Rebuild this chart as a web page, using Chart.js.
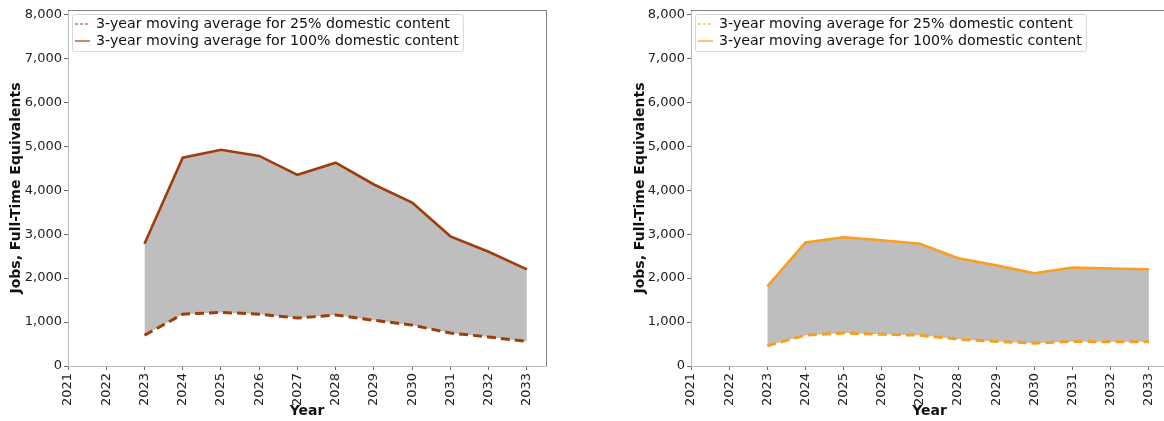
<!DOCTYPE html>
<html>
<head>
<meta charset="utf-8">
<script src="https://cdn.jsdelivr.net/npm/chart.js@4.4.0/dist/chart.umd.min.js"></script>
<style>
  html, body { margin: 0; padding: 0; background: #fff; }
  #wrap { position: relative; width: 1164px; height: 421px; overflow: hidden; }
  .panel { position: absolute; top: 0; }
</style>
</head>
<body>
<div id="wrap">
  <canvas id="left" class="panel" style="left:0" width="560" height="421"></canvas>
  <canvas id="right" class="panel" style="left:600px" width="580" height="421"></canvas>
</div>
<script>
const years = [2023, 2024, 2025, 2026, 2027, 2028, 2029, 2030, 2031, 2032, 2033];
const yTicks = [0, 1000, 2000, 3000, 4000, 5000, 6000, 7000, 8000];

// left panel (brown)
const leftLow = [700, 1180, 1220, 1180, 1090, 1160, 1040, 930, 750, 660, 560];
const leftHigh = [2780, 4740, 4920, 4780, 4350, 4625, 4130, 3720, 2950, 2600, 2200];

// right panel (orange)
const rightLow = [460, 700, 750, 720, 700, 610, 560, 520, 560, 550, 550];
const rightHigh = [1810, 2810, 2930, 2860, 2780, 2450, 2290, 2110, 2240, 2220, 2200];

const legendLabels = [
  '3-year moving average for 25% domestic content',
  '3-year moving average for 100% domestic content'
];

const FONT = 'DejaVu Sans';

const framePlugin = {
  id: 'frame',
  afterDraw(chart) {
    const { ctx, chartArea: a } = chart;
    ctx.save();
    ctx.strokeStyle = '#808080';
    ctx.lineWidth = 1;
    ctx.beginPath();
    ctx.moveTo(a.left, Math.round(a.top) + 0.5);
    ctx.lineTo(Math.round(a.right) + 0.5, Math.round(a.top) + 0.5);
    ctx.lineTo(Math.round(a.right) + 0.5, a.bottom);
    ctx.stroke();
    ctx.restore();
  }
};

const boxLegend = {
  id: 'boxLegend',
  afterDraw(chart) {
    const { ctx, chartArea: a } = chart;
    const sets = chart.data.datasets;
    ctx.save();
    ctx.font = '14.2px "' + FONT + '"';
    const textW = Math.max(...sets.map(d => ctx.measureText(d.label).width));
    const x = a.left + 4, y = a.top + 4;
    const w = 24 + textW + 4, h = 37;
    ctx.fillStyle = 'rgba(255,255,255,0.9)';
    ctx.strokeStyle = '#d8d8d8';
    ctx.lineWidth = 1;
    ctx.beginPath();
    ctx.roundRect(Math.round(x) + 0.5, Math.round(y) + 0.5, w, h, 2);
    ctx.fill();
    ctx.stroke();
    sets.forEach((d, i) => {
      const cy = y + 10 + i * 17;
      ctx.strokeStyle = d.borderColor;
      ctx.lineWidth = 1.2;
      ctx.setLineDash(d.borderDash ? [3, 2] : []);
      ctx.beginPath();
      ctx.moveTo(x + 3, cy);
      ctx.lineTo(x + 18, cy);
      ctx.stroke();
      ctx.setLineDash([]);
      ctx.fillStyle = '#111';
      ctx.textBaseline = 'middle';
      ctx.fillText(d.label, x + 24, cy);
    });
    ctx.restore();
  }
};

function makeChart(id, colour, low, high, pad, yWidth) {
  const ctx = document.getElementById(id).getContext('2d');
  return new Chart(ctx, {
    type: 'line',
    data: {
      datasets: [
        {
          label: legendLabels[0],
          data: years.map((y, i) => ({ x: y, y: low[i] })),
          borderColor: colour,
          borderDash: [9, 5],
          borderWidth: 3,
          pointRadius: 0,
          tension: 0,
          fill: '+1',
          backgroundColor: '#bebebe'
        },
        {
          label: legendLabels[1],
          data: years.map((y, i) => ({ x: y, y: high[i] })),
          borderColor: colour,
          borderWidth: 2.6,
          pointRadius: 0,
          tension: 0,
          fill: false
        }
      ]
    },
    options: {
      responsive: false,
      animation: false,
      layout: { padding: pad },
      scales: {
        x: {
          type: 'linear',
          min: 2021,
          max: 2033.5,
          afterFit: (s) => { s.height = 55; },
          ticks: {
            stepSize: 1,
            includeBounds: false,
            autoSkip: false,
            minRotation: 90,
            maxRotation: 90,
            padding: 3,
            color: '#222',
            font: { family: FONT, size: 13 },
            callback: (v) => Number.isInteger(v) ? String(v) : ''
          },
          grid: { drawOnChartArea: false, drawTicks: true, tickLength: 4, color: '#666' },
          border: { color: '#bbbbbb' },
          title: {
            display: true,
            text: 'Year',
            color: '#111',
            padding: { top: 0, bottom: 1 },
            font: { family: FONT, size: 14, weight: 'bold' }
          }
        },
        y: {
          min: 0,
          max: 8100,
          afterFit: (s) => { s.width = yWidth; },
          afterBuildTicks: (s) => { s.ticks = yTicks.map(v => ({ value: v })); },
          ticks: {
            padding: 2,
            color: '#222',
            font: { family: FONT, size: 13 },
            callback: (v) => v.toLocaleString('en-US')
          },
          grid: { drawOnChartArea: false, drawTicks: true, tickLength: 4, color: '#666' },
          border: { color: '#bbbbbb' },
          title: {
            display: true,
            text: 'Jobs, Full-Time Equivalents',
            color: '#111',
            padding: { top: 8, bottom: 0 },
            font: { family: FONT, size: 14, weight: 'bold' }
          }
        }
      },
      plugins: {
        legend: { display: false },
        tooltip: { enabled: false },
        filler: { drawTime: 'beforeDatasetsDraw' }
      }
    },
    plugins: [framePlugin, boxLegend]
  });
}

makeChart('left', '#9e3e0b', leftLow, leftHigh, { left: 0, right: 14, top: 10, bottom: 0 }, 68);
makeChart('right', '#f6a01e', rightLow, rightHigh, { left: 24, right: 12, top: 10, bottom: 0 }, 67);
</script>
</body>
</html>
